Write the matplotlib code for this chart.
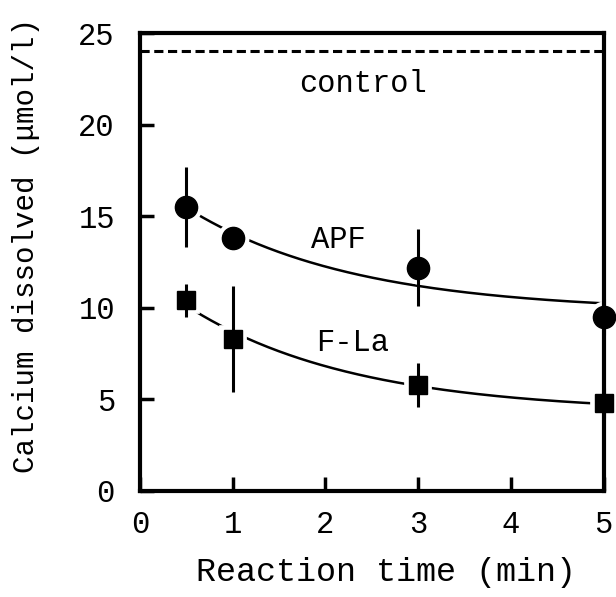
import numpy as np
import matplotlib
matplotlib.use('Agg')
import matplotlib.pyplot as plt

# data
time_min = [0.5, 1, 3, 5]
apf_mean = [15.5, 13.8, 12.2, 9.5]
apf_err = [2.2, 0.0, 2.1, 1.0]
fla_mean = [10.4, 8.3, 5.8, 4.8]
fla_err = [0.9, 2.9, 1.2, 0.8]
control_level = 24.0

x_ticks = [0, 1, 2, 3, 4, 5]
y_ticks = [0, 5, 10, 15, 20, 25]

FONT = ['Liberation Mono', 'DejaVu Sans Mono']
TAU = 1.8  # time constant of the drawn decay curves


def draw_series(ax, x, y, err, marker, ms):
    # decay trend a + b*exp(-t/TAU), least squares through the points
    x = np.asarray(x, float)
    A = np.column_stack([np.ones_like(x), np.exp(-x / TAU)])
    a, b = np.linalg.lstsq(A, np.asarray(y, float), rcond=None)[0]
    xs = np.linspace(x.min(), x.max(), 200)
    ax.plot(xs, a + b * np.exp(-xs / TAU), color='black', lw=1.8, zorder=1)
    # white halo to break the curve around each marker
    ax.plot(x, y, ls='none', marker=marker, ms=ms, mfc='black',
            mec='white', mew=7, zorder=2, clip_on=False)
    ax.errorbar(x, y, yerr=err, fmt='none', ecolor='black', elinewidth=2.2,
                capsize=0, zorder=3, clip_on=False)
    ax.plot(x, y, ls='none', marker=marker, ms=ms, mfc='black',
            mec='black', zorder=4, clip_on=False)


def main():
    plt.rcParams['font.family'] = FONT
    fig = plt.figure(figsize=(6.16, 5.97), dpi=100)
    ax = fig.add_axes([0.227, 0.1776, 0.753, 0.767])

    ax.axhline(control_level, color='black', lw=2.2, ls=(0, (3, 1.5)), zorder=1)
    draw_series(ax, time_min, apf_mean, apf_err, 'o', 16)
    draw_series(ax, time_min, fla_mean, fla_err, 's', 13)

    ax.text(2.41, 22.2, 'control', fontsize=22, ha='center', va='center')
    ax.text(2.14, 13.7, 'APF', fontsize=22, ha='center', va='center')
    ax.text(2.29, 8.1, 'F-La', fontsize=22, ha='center', va='center')

    ax.set_xlim(0, 5)
    ax.set_ylim(0, 25)
    ax.set_xticks(x_ticks)
    ax.set_yticks(y_ticks)
    ax.tick_params(direction='in', length=10, width=2.5, labelsize=22)
    ax.tick_params(axis='x', pad=14)
    ax.tick_params(axis='y', pad=18)
    for s in ax.spines.values():
        s.set_linewidth(3)

    ax.set_xlabel('Reaction time (min)', fontsize=24)
    ax.set_ylabel('Calcium dissolved (\u03bcmol/l)', fontsize=21)
    ax.xaxis.set_label_coords(0.53, -0.145)
    ax.yaxis.set_label_coords(-0.215, 0.535)

    fig.savefig('out.png', dpi=100)
    plt.close(fig)


if __name__ == '__main__':
    main()
